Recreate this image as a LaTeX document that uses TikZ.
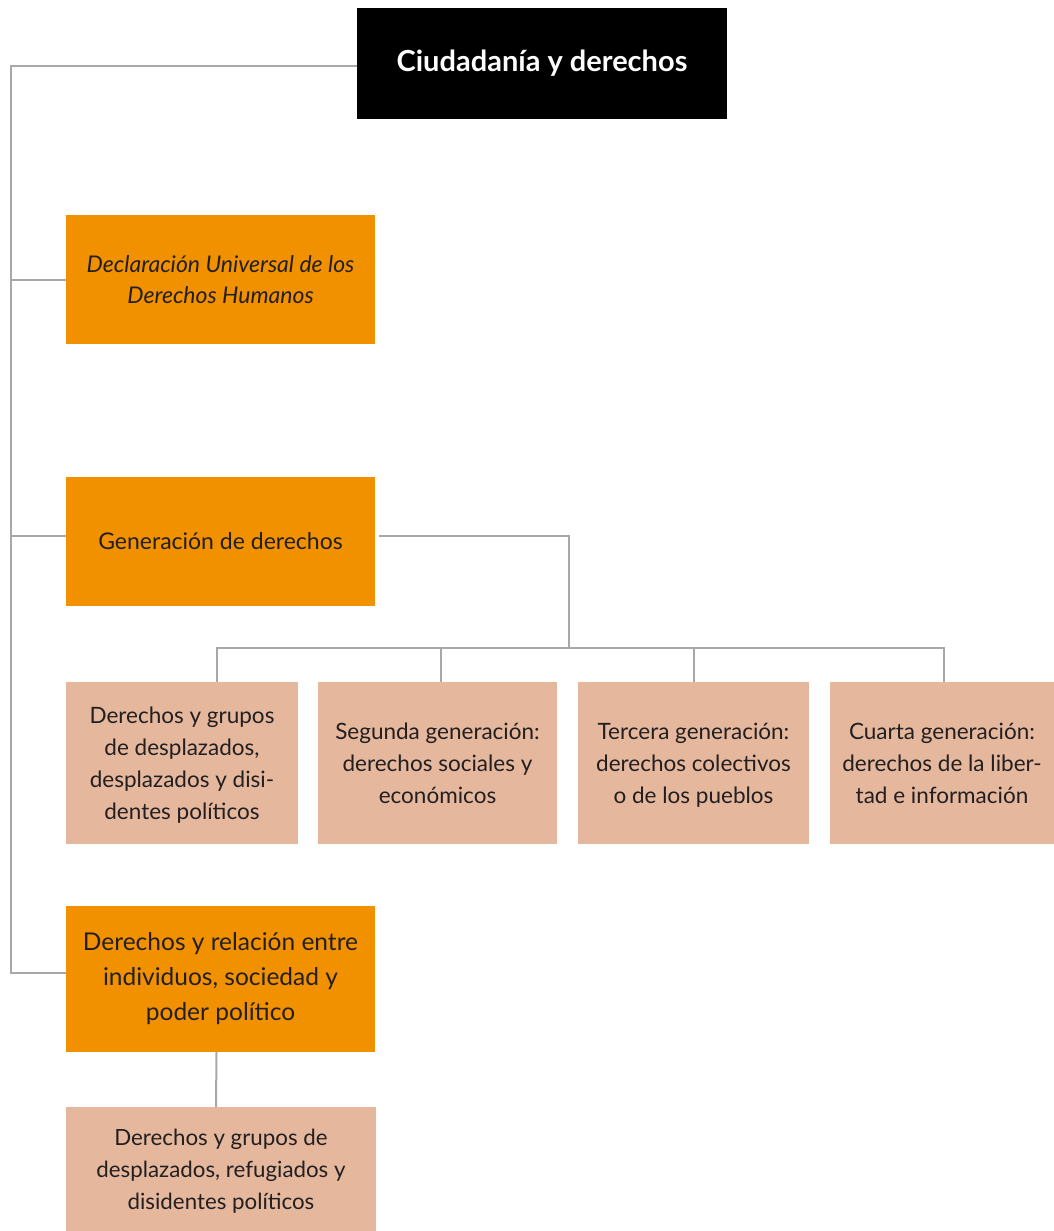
\documentclass[tikz,border=0pt]{standalone}
\usepackage{fontspec}
\setmainfont{Lato}
\usepackage{tikz}
\usetikzlibrary{positioning, calc}

\definecolor{darkorange}{HTML}{F29100}
\definecolor{lighttan}{HTML}{E5B89E}
\definecolor{linegray}{HTML}{A8A8A8}
\definecolor{textgray}{HTML}{231F20}

\begin{document}
\begin{tikzpicture}[
    x=1pt, y=-1pt,
    rootbox/.style={fill=black, text=white, font=\fontsize{29}{34}\selectfont\bfseries, inner sep=0pt},
    mainbox/.style={fill=darkorange, text=textgray, align=center, inner sep=0pt, font=\fontsize{23}{31}\selectfont},
    subbox/.style={fill=lighttan, text=textgray, align=center, inner sep=0pt, text depth=0pt, font=\fontsize{22.5}{32}\selectfont},
    link/.style={draw=linegray, line width=2pt}
]
    \useasboundingbox (0,0) rectangle (1054,1231);

    % Root
    \node[rootbox, minimum width=370pt, minimum height=111pt] (root) at (542,63.5) {Ciudadanía y derechos};

    % Main branches
    \node[mainbox, minimum width=309pt, minimum height=129pt] (dudh) at (220.5,279.5)
        {\itshape Declaración Universal de los\\\itshape Derechos Humanos};
    \node[mainbox, minimum width=309pt, minimum height=129pt] (gen) at (220.5,541.5) {Generación de derechos};
    \node[mainbox, minimum width=309pt, minimum height=146pt, font=\fontsize{24.5}{35}\selectfont] (rel) at (220.5,979)
        {Derechos y relación entre\\individuos, sociedad y\\poder político};

    % Generations
    \node[subbox, minimum width=232pt, minimum height=162pt] (gen1) at (182,763)
        {Derechos y grupos\\de desplazados,\\desplazados y disi-\\dentes políticos};
    \node[subbox, minimum width=239pt, minimum height=162pt] (gen2) at (437.5,763)
        {Segunda generación:\\derechos sociales y\\económicos};
    \node[subbox, minimum width=231pt, minimum height=162pt] (gen3) at (693.5,763)
        {Tercera generación:\\derechos colectivos\\o de los pueblos};
    \node[subbox, minimum width=224pt, minimum height=162pt] (gen4) at (942,763)
        {Cuarta generación:\\derechos de la liber-\\tad e información};

    % Bottom
    \node[subbox, minimum width=310pt, minimum height=124pt, font=\fontsize{22.3}{32}\selectfont] (grupos) at (221,1169)
        {Derechos y grupos de\\desplazados, refugiados y\\disidentes políticos};

    % Trunk on the left
    \draw[link] ([yshift=-2.5pt]root.west) -| ([xshift=-55pt, yshift=6pt]rel.west) -- ([yshift=6pt]rel.west);
    \draw[link] ([xshift=-55pt]dudh.west) -- (dudh.west);
    \draw[link] ([xshift=-55pt, yshift=5.5pt]gen.west) -- ([yshift=5.5pt]gen.west);

    % Bus to the generations
    \coordinate (bus) at (569,648);
    \draw[link] ([xshift=4pt, yshift=5.5pt]gen.east) -| (bus);
    \draw[link] (bus) -| ([xshift=35pt]gen1.north);
    \draw[link] (bus) -| ([xshift=3.5pt]gen2.north);
    \draw[link] (bus) -| (gen3.north);
    \draw[link] (bus) -| ([xshift=2pt]gen4.north);

    \draw[link] ([xshift=-4pt]rel.south) -- ([xshift=-5pt]grupos.north);

\end{tikzpicture}
\end{document}
